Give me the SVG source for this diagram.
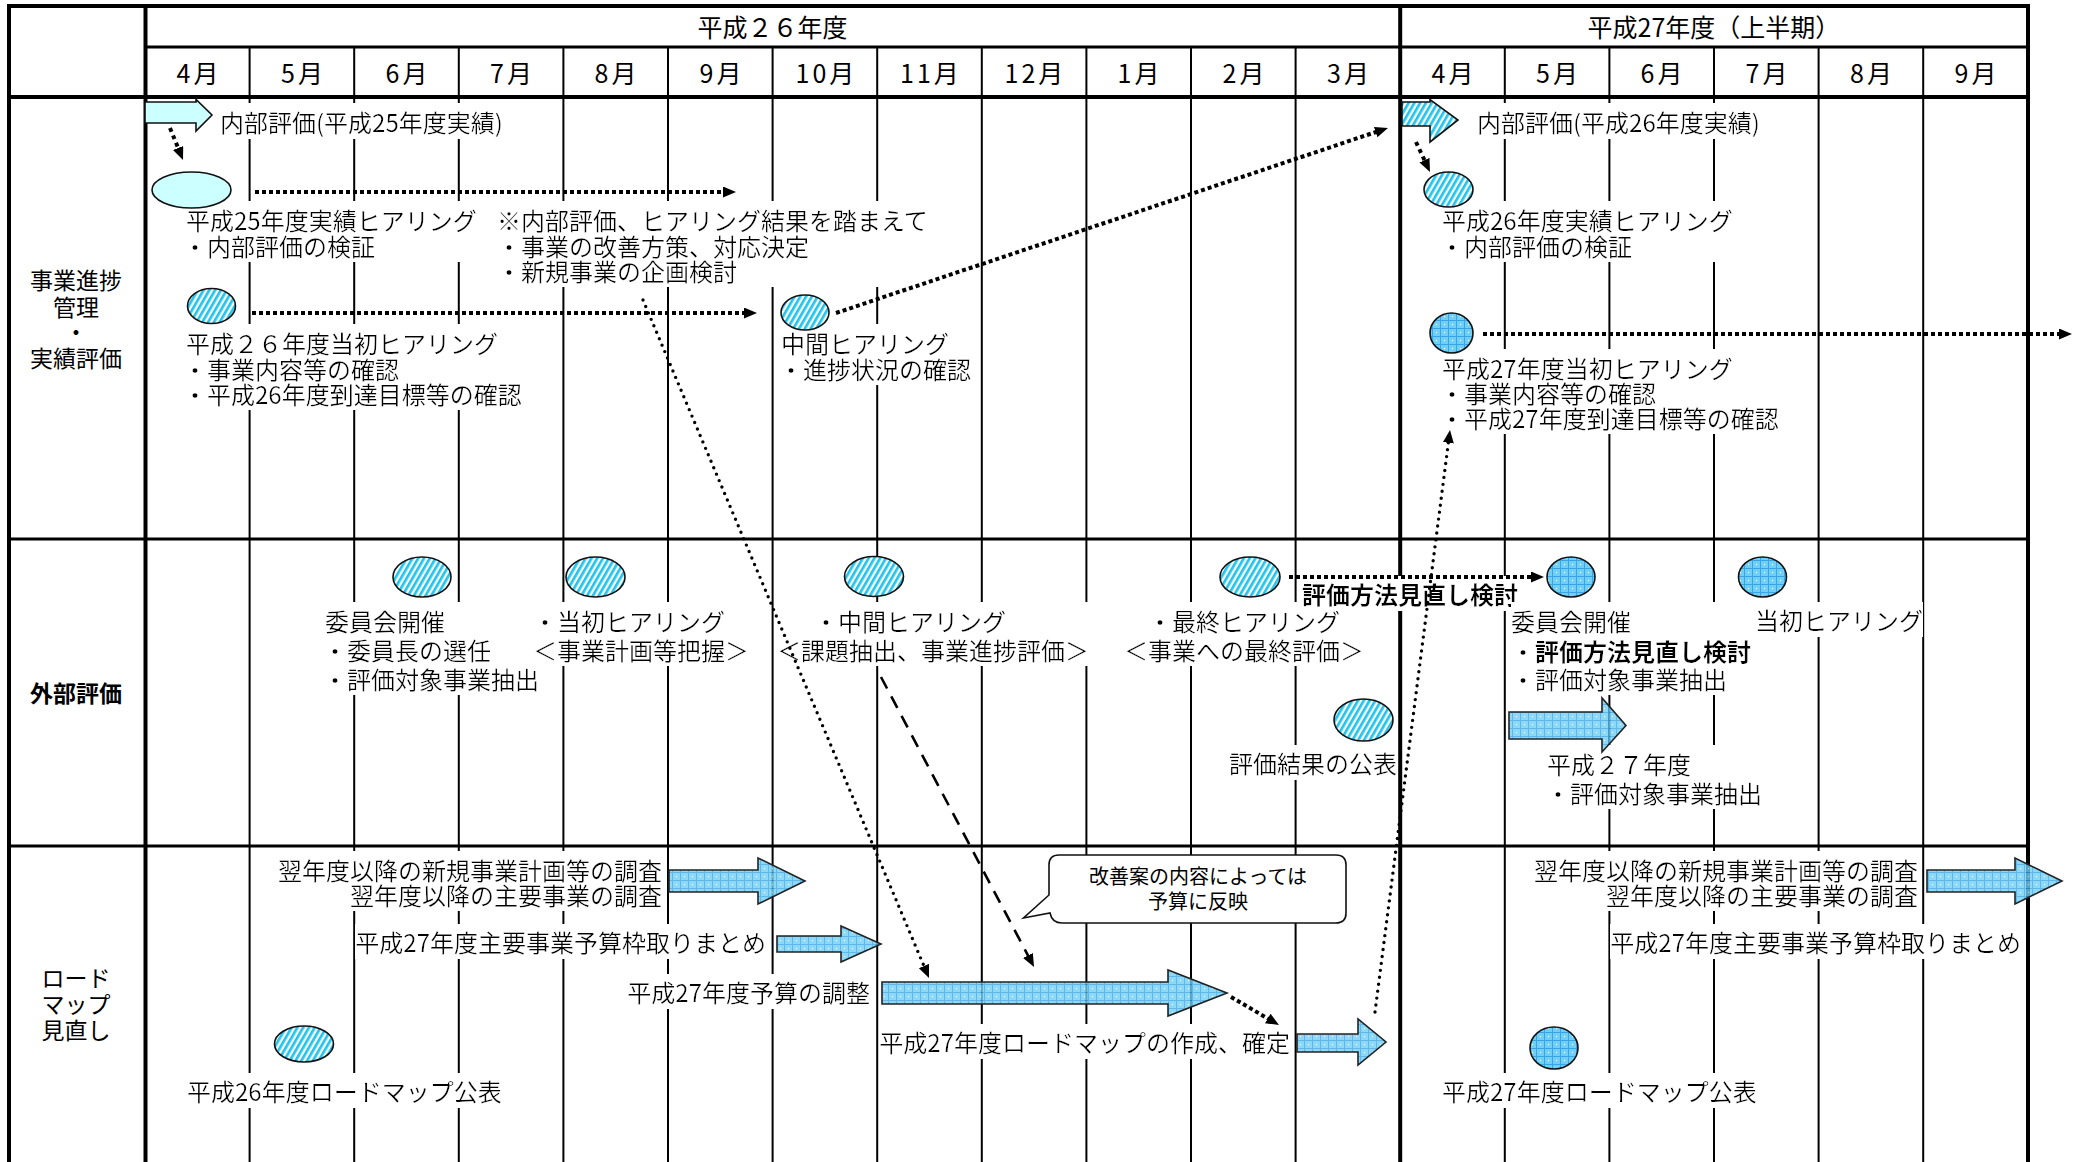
<svg xmlns="http://www.w3.org/2000/svg" width="2074" height="1162" viewBox="0 0 2074 1162">
<style>
text{font-family:'Noto Sans CJK JP','Noto Sans CJK SC',sans-serif;font-size:24px;fill:#000;dominant-baseline:central}
.lbl{font-size:23px;text-anchor:middle}
.hd{font-size:25px;text-anchor:middle}
.mo{font-size:25px;text-anchor:middle;letter-spacing:3px}
.b{font-weight:bold}
.end{text-anchor:end}
.sm{font-size:20px;text-anchor:middle}
.thick{stroke:#000;stroke-width:4;fill:none}
.row{stroke:#000;stroke-width:3;fill:none}
.thin{stroke:#000;stroke-width:2;fill:none}
.shape{stroke:#111;stroke-width:1.6}
.arr{stroke:#222;stroke-width:1.6;fill:url(#grid);fill-opacity:0.8}
.sq{stroke:#000;stroke-width:4;stroke-dasharray:4 3;fill:none}
.sq2{stroke:#000;stroke-width:4;stroke-dasharray:4 4;fill:none}
.rd{stroke:#000;stroke-width:3.4;stroke-dasharray:0 7;stroke-linecap:round;fill:none}
.ds{stroke:#000;stroke-width:2.6;stroke-dasharray:13 9;fill:none}
</style>
<defs>
<pattern id="hatch" patternUnits="userSpaceOnUse" width="5" height="5" patternTransform="rotate(30)">
<rect width="5" height="5" fill="#fff"/>
<rect width="2.7" height="5" fill="#20C4EE"/>
</pattern>
<pattern id="grid" patternUnits="userSpaceOnUse" width="8" height="8">
<rect width="8" height="8" fill="#6FCFF5"/>
<path d="M0 0.5H8M0.5 0V8" stroke="#3AA5E6" stroke-width="1"/>
<circle cx="4.5" cy="4.5" r="0.7" fill="#fff"/>
</pattern>
<filter id="wb" x="0" y="0" width="1" height="1">
<feFlood flood-color="#fff"/>
<feComposite in="SourceGraphic" operator="over"/>
</filter>
<marker id="ah" markerUnits="userSpaceOnUse" markerWidth="14" markerHeight="12" refX="5" refY="5.5" orient="auto" viewBox="0 0 14 12">
<path d="M0,0 L13,5.5 L0,11 Z" fill="#000"/>
</marker>
</defs>
<rect width="2074" height="1162" fill="#fff"/>

<g id="table">
<path class="thin" d="M249.6 47V1162M354.2 47V1162M458.8 47V1162M563.4 47V1162M668 47V1162M772.6 47V1162M877.2 47V1162M981.8 47V1162M1086.4 47V1162M1191 47V1162M1295.6 47V1162M1504.8 47V1162M1609.4 47V1162M1714 47V1162M1818.6 47V1162M1923.2 47V1162"/>
<path class="row" d="M9 539H2028M9 846H2028M145 47H2028"/>
<path class="thick" d="M9 1162V6H2028V1162M145.5 6V1162M1400.2 6V1162M9 97H2028"/>
<text class="hd" x="772.5" y="26">平成２６年度</text>
<text class="hd" x="1714" y="26">平成27年度（上半期）</text>
<text class="mo" x="199" y="72">4月</text>
<text class="mo" x="303.5" y="72">5月</text>
<text class="mo" x="408" y="72">6月</text>
<text class="mo" x="512.5" y="72">7月</text>
<text class="mo" x="617" y="72">8月</text>
<text class="mo" x="722" y="72">9月</text>
<text class="mo" x="826.5" y="72">10月</text>
<text class="mo" x="931" y="72">11月</text>
<text class="mo" x="1035.5" y="72">12月</text>
<text class="mo" x="1140" y="72">1月</text>
<text class="mo" x="1245" y="72">2月</text>
<text class="mo" x="1349.5" y="72">3月</text>
<text class="mo" x="1454" y="72">4月</text>
<text class="mo" x="1558.5" y="72">5月</text>
<text class="mo" x="1663" y="72">6月</text>
<text class="mo" x="1768" y="72">7月</text>
<text class="mo" x="1872.5" y="72">8月</text>
<text class="mo" x="1977" y="72">9月</text>
<text class="lbl" x="76" y="279">事業進捗</text>
<text class="lbl" x="76" y="306">管理</text>
<text class="lbl" x="76" y="331">・</text>
<text class="lbl" x="76" y="357">実績評価</text>
<text class="lbl b" x="76" y="692">外部評価</text>
<text class="lbl" x="76" y="977">ロード</text>
<text class="lbl" x="76" y="1003">マップ</text>
<text class="lbl" x="76" y="1029">見直し</text>
</g>

<g id="internal-eval-25">
<g filter="url(#wb)"><text x="220" y="121">内部評価(平成25年度実績)</text></g>
<polygon class="shape" fill="#CCFFFF" points="145,102 196,102 196,99.5 212,115 196,131 196,123 145,123"/>
</g>
<g id="hearing-25">
<g filter="url(#wb)"><text><tspan x="186" y="218.5">平成25年度実績ヒアリング</tspan><tspan x="183" y="244.5">・内部評価の検証</tspan></text></g>
<ellipse class="shape" fill="#CCFFFF" cx="191.5" cy="190" rx="39.5" ry="18"/>
</g>
<g id="note-improve">
<g filter="url(#wb)"><text><tspan x="497" y="218.5">※内部評価、ヒアリング結果を踏まえて</tspan><tspan x="497" y="244.5">・事業の改善方策、対応決定</tspan><tspan x="497" y="269.5">・新規事業の企画検討</tspan></text></g>
</g>
<g id="hearing-26-initial">
<g filter="url(#wb)"><text><tspan x="186" y="341.5">平成２６年度当初ヒアリング</tspan><tspan x="183" y="367.5">・事業内容等の確認</tspan><tspan x="183" y="392.5">・平成26年度到達目標等の確認</tspan></text></g>
<ellipse class="shape" fill="url(#hatch)" cx="211.5" cy="306" rx="24" ry="17.5"/>
</g>
<g id="hearing-mid">
<g filter="url(#wb)"><text><tspan x="781" y="341.5">中間ヒアリング</tspan><tspan x="779" y="367.5">・進捗状況の確認</tspan></text></g>
<ellipse class="shape" fill="url(#hatch)" cx="805" cy="312.5" rx="24" ry="17.5"/>
</g>
<g id="internal-eval-26">
<g filter="url(#wb)"><text x="1477" y="121">内部評価(平成26年度実績)</text></g>
<polygon class="shape" fill="url(#hatch)" points="1402,102 1430,102 1430,99.5 1458,120 1430,142 1430,126 1402,126"/>
</g>
<g id="hearing-26">
<g filter="url(#wb)"><text><tspan x="1442" y="218.5">平成26年度実績ヒアリング</tspan><tspan x="1440" y="244.5">・内部評価の検証</tspan></text></g>
<ellipse class="shape" fill="url(#hatch)" cx="1448.5" cy="189.5" rx="24.5" ry="17.5"/>
</g>
<g id="hearing-27-initial">
<g filter="url(#wb)"><text><tspan x="1442" y="366.5">平成27年度当初ヒアリング</tspan><tspan x="1440" y="391.5">・事業内容等の確認</tspan><tspan x="1440" y="416.5">・平成27年度到達目標等の確認</tspan></text></g>
<ellipse class="shape" fill="url(#grid)" cx="1451.5" cy="333" rx="21.5" ry="20"/>
</g>

<g id="committee-26">
<g filter="url(#wb)"><text><tspan x="325" y="619.5">委員会開催</tspan><tspan x="323" y="648.5">・委員長の選任</tspan><tspan x="323" y="677.5">・評価対象事業抽出</tspan></text></g>
<ellipse class="shape" fill="url(#hatch)" cx="422" cy="577" rx="29" ry="20"/>
</g>
<g id="ext-initial">
<g filter="url(#wb)"><text><tspan x="533" y="619.5">・当初ヒアリング</tspan><tspan x="533" y="648.5">＜事業計画等把握＞</tspan></text></g>
<ellipse class="shape" fill="url(#hatch)" cx="595.5" cy="577" rx="29.5" ry="20"/>
</g>
<g id="ext-mid">
<g filter="url(#wb)"><text><tspan x="814" y="619.5">・中間ヒアリング</tspan><tspan x="777" y="648.5">＜課題抽出、事業進捗評価＞</tspan></text></g>
<ellipse class="shape" fill="url(#hatch)" cx="874" cy="576.5" rx="29.5" ry="20"/>
</g>
<g id="ext-final">
<g filter="url(#wb)"><text><tspan x="1148" y="619.5">・最終ヒアリング</tspan><tspan x="1124" y="648.5">＜事業への最終評価＞</tspan></text></g>
<ellipse class="shape" fill="url(#hatch)" cx="1250" cy="577" rx="30" ry="20"/>
</g>
<g id="ext-publish">
<g filter="url(#wb)"><text x="1229" y="762.5">評価結果の公表</text></g>
<ellipse class="shape" fill="url(#hatch)" cx="1363.5" cy="720" rx="29.5" ry="21"/>
</g>
<g id="method-review">
<g filter="url(#wb)"><text class="b" x="1302" y="593.5">評価方法見直し検討</text></g>
</g>
<g id="committee-27">
<g filter="url(#wb)"><text><tspan x="1511" y="619.5">委員会開催</tspan><tspan x="1511" y="649.5">・</tspan><tspan class="b">評価方法見直し検討</tspan><tspan x="1511" y="677.5">・評価対象事業抽出</tspan></text></g>
<ellipse class="shape" fill="url(#grid)" cx="1571" cy="577" rx="24" ry="20"/>
</g>
<g id="ext-initial-27">
<g filter="url(#wb)"><text x="1755" y="619.5">当初ヒアリング</text></g>
<ellipse class="shape" fill="url(#grid)" cx="1762.5" cy="577" rx="24" ry="20"/>
</g>
<g id="extract-27">
<g filter="url(#wb)"><text><tspan x="1547" y="762.5">平成２７年度</tspan><tspan x="1546" y="791.5">・評価対象事業抽出</tspan></text></g>
<polygon class="arr" points="1509,712 1602,712 1602,698 1626,725.5 1602,752 1602,739 1509,739"/>
</g>

<g id="rm-survey-26">
<g filter="url(#wb)"><text class="end"><tspan x="662" y="868.5">翌年度以降の新規事業計画等の調査</tspan><tspan x="662" y="893.5">翌年度以降の主要事業の調査</tspan></text></g>
<polygon class="arr" points="669,870 758,870 758,858 805,881 758,904 758,892 669,892"/>
</g>
<g id="rm-budget-frame">
<g filter="url(#wb)"><text class="end" x="766" y="941.5">平成27年度主要事業予算枠取りまとめ</text></g>
<polygon class="arr" points="777,936 841,936 841,926 881,944 841,962 841,952 777,952"/>
</g>
<g id="rm-budget-adjust">
<g filter="url(#wb)"><text class="end" x="870" y="991.5">平成27年度予算の調整</text></g>
<polygon class="arr" points="882,982 1168,982 1168,970 1227,993 1168,1016 1168,1004 882,1004"/>
</g>
<g id="rm-create">
<g filter="url(#wb)"><text class="end" x="1290" y="1041.5">平成27年度ロードマップの作成、確定</text></g>
<polygon class="arr" points="1297,1034 1358,1034 1358,1019 1386,1042 1358,1065 1358,1052 1297,1052"/>
</g>
<g id="rm-publish-26">
<g filter="url(#wb)"><text x="187" y="1090.5">平成26年度ロードマップ公表</text></g>
<ellipse class="shape" fill="url(#hatch)" cx="304" cy="1044" rx="29.5" ry="18"/>
</g>
<g id="callout">
<path d="M1059,855 H1336 Q1346,855 1346,865 V913 Q1346,923 1336,923 H1062 Q1052,923 1050,913 L1023.5,918 L1049,895 V865 Q1049,855 1059,855 Z" fill="#fff" stroke="#111" stroke-width="1.6"/>
<text class="sm"><tspan x="1198" y="875">改善案の内容によっては</tspan><tspan x="1198" y="900">予算に反映</tspan></text>
</g>
<g id="rm-survey-27">
<g filter="url(#wb)"><text class="end"><tspan x="1918" y="868.5">翌年度以降の新規事業計画等の調査</tspan><tspan x="1918" y="893.5">翌年度以降の主要事業の調査</tspan></text></g>
<polygon class="arr" points="1927,870 2015,870 2015,858 2062,881 2015,904 2015,892 1927,892"/>
</g>
<g id="rm-budget-frame-27">
<g filter="url(#wb)"><text class="end" x="2021" y="941.5">平成27年度主要事業予算枠取りまとめ</text></g>
</g>
<g id="rm-publish-27">
<g filter="url(#wb)"><text x="1442" y="1090.5">平成27年度ロードマップ公表</text></g>
<ellipse class="shape" fill="url(#grid)" cx="1554" cy="1048" rx="24" ry="21"/>
</g>

<g id="connectors">
<path class="sq2" d="M170,128 L180,152.6" marker-end="url(#ah)"/>
<path class="sq" d="M255,192 H728" marker-end="url(#ah)"/>
<path class="sq" d="M252,313 H749" marker-end="url(#ah)"/>
<path class="sq" d="M836,313 L1380.4,130.5" marker-end="url(#ah)"/>
<path class="sq2" d="M1416,142 L1426.6,164.7" marker-end="url(#ah)"/>
<path class="sq" d="M1483,334 H2064" marker-end="url(#ah)"/>
<path class="sq" d="M1289,577 H1536" marker-end="url(#ah)"/>
<path class="rd" d="M643,300 L925.9,970.6" marker-end="url(#ah)"/>
<path class="rd" d="M1375,1012 L1449,437.9" marker-end="url(#ah)"/>
<path class="ds" d="M881,677 L1030.3,959.9" marker-end="url(#ah)"/>
<path class="sq" d="M1231,997 L1272.1,1021" marker-end="url(#ah)"/>
</g>
</svg>
